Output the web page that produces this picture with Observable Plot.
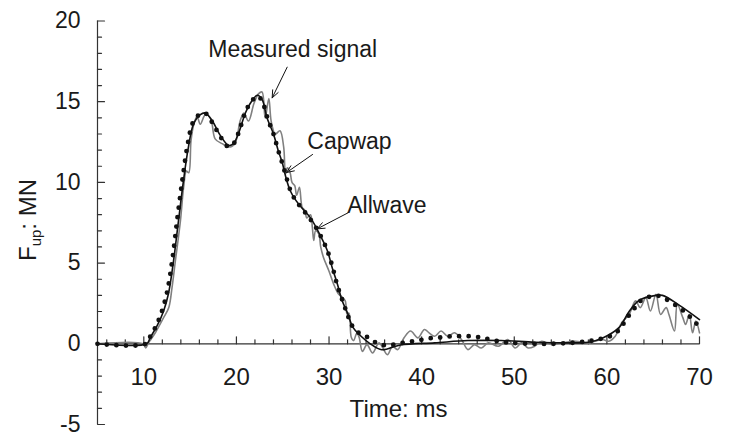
<!DOCTYPE html>
<html><head><meta charset="utf-8">
<script src="https://cdn.jsdelivr.net/npm/d3@7"></script>
<script src="https://cdn.jsdelivr.net/npm/@observablehq/plot@0.6"></script>
<style>html,body{margin:0;padding:0;background:#fff} svg{display:block}</style>
</head><body><div id="chart"></div>
<script>
// Time (ms), F_up (MN)
const measured = [[5,0],[9.9,0],[10.2,-0.25],[10.5,0.05],[10.8,0.3],[11.26,0.7],[12.15,1.63],[12.7,2.25],[13.05,3.5],[13.4,5.1],[13.95,7.6],[14.3,9.7],[14.6,10.7],[14.85,10.6],[15.1,12.6],[15.4,13.6],[15.75,14.1],[16.1,13.6],[16.65,14.2],[17.2,14.0],[17.7,12.7],[18.45,12.4],[19.35,12.2],[19.9,12.5],[20.4,13.8],[20.8,14.3],[21.3,13.8],[21.9,14.9],[22.4,15.5],[22.77,15.6],[23.1,14.0],[23.5,15.2],[23.75,13.8],[24.2,13.0],[24.7,13.2],[25.1,12.2],[25.3,10.5],[25.5,10.9],[25.8,10.6],[26.0,10.0],[26.3,9.8],[26.5,9.2],[26.8,9.7],[27.1,8.45],[27.4,8.25],[27.6,7.8],[28.0,8.0],[28.2,7.2],[28.35,6.4],[28.55,7.0],[28.9,6.8],[29.1,6.0],[29.4,5.35],[30.0,4.5],[30.5,3.7],[31.0,3.1],[31.4,2.9],[31.75,2.66],[31.95,1.84],[32.15,1.9],[32.4,0.4],[32.65,0.2],[33.0,0.65],[33.25,0.4],[33.6,-0.47],[34.1,-0.05],[34.7,-0.57],[35.4,0.06],[36.3,-0.67],[36.85,-0.15],[37.4,-0.36],[38.1,0.37],[38.8,0.79],[39.6,0.37],[40.3,0.89],[40.8,0.68],[41.4,0.47],[42.1,0.79],[42.8,0.47],[43.55,0.68],[44.3,0.27],[45.0,-0.36],[45.7,-0.05],[46.45,-0.26],[47.2,0.06],[48.3,-0.15],[49.3,0.27],[50.1,-0.26],[50.8,0.06],[51.5,-0.26],[52.2,-0.15],[52.96,0.16],[54.05,-0.05],[55.1,0.06],[56.6,0.16],[58.0,0.06],[59.5,0.27],[60.2,0.16],[60.9,0.47],[61.6,1.3],[62.4,1.82],[63.1,2.66],[63.6,2.24],[64.2,2.86],[64.7,2.03],[65.3,3.07],[65.8,1.82],[66.4,2.24],[66.7,1.82],[67.3,0.79],[67.6,2.45],[68.2,1.62],[68.5,1.2],[68.9,1.82],[69.25,0.68],[69.6,1.41],[70.0,0.68]];

const capwap = [[5,0],[10.3,0],[10.7,0.39],[11.44,1.12],[12.12,2.0],[12.66,3.1],[13.2,5.1],[13.74,7.6],[14.28,10.1],[14.82,12.2],[15.36,13.6],[16.1,14.2],[16.65,14.3],[17.4,13.8],[18.27,12.9],[19.13,12.3],[19.67,12.4],[20.2,13.0],[20.97,14.3],[21.5,14.9],[22.26,15.4],[22.8,15.1],[23.3,14.0],[24.0,13.0],[24.5,12.0],[24.96,11.2],[25.3,10.4],[25.8,9.5],[26.4,8.9],[27.1,8.4],[28.0,7.8],[28.8,7.0],[29.8,5.8],[30.35,4.7],[30.9,3.7],[31.4,2.7],[32.0,1.9],[32.6,1.0],[33.4,0.5],[34.45,0.0],[35.7,-0.37],[37.7,-0.07],[41.4,0.06],[45,0.2],[48.6,0.2],[52.2,0.1],[55.8,0.06],[58,0.1],[59.5,0.35],[61.3,1.0],[62.4,2.0],[63.5,2.7],[65.3,3.0],[66,3.0],[67.8,2.4],[70,1.5]];

const allwave = [[5,0],[10.2,0],[10.7,0.45],[11.4,1.2],[12.0,2.1],[12.55,3.3],[13.1,5.3],[13.65,7.9],[14.2,10.3],[14.75,12.4],[15.3,13.7],[16.0,14.2],[16.6,14.3],[17.4,13.7],[18.3,12.8],[19.15,12.2],[19.7,12.4],[20.25,13.1],[21.0,14.4],[21.6,15.0],[22.3,15.35],[22.8,15.0],[23.4,13.9],[24.0,13.0],[24.5,12.0],[25.0,11.1],[25.4,10.3],[25.9,9.4],[26.5,8.8],[27.2,8.3],[28.0,7.7],[28.8,7.0],[29.8,5.8],[30.4,4.7],[30.9,3.6],[31.5,2.6],[32.0,1.8],[32.4,1.2],[33.2,0.68],[34.3,0.37],[35.3,0],[36.3,-0.1],[37.4,0],[38.5,0.12],[39.6,0.2],[40.65,0.33],[41.7,0.37],[42.8,0.45],[43.9,0.47],[45.2,0.47],[46.3,0.4],[47.35,0.27],[48.6,0.12],[49.7,0.06],[51.9,0],[54.05,0],[56.2,0.06],[58.0,0.16],[59.5,0.33],[60.75,0.58],[61.5,1.0],[62.2,1.62],[62.9,2.14],[63.5,2.6],[64.5,2.9],[65.6,2.97],[66.7,2.66],[67.8,2.24],[68.5,1.93],[69.25,1.51],[70,1.04]];

const xMajorTicks = [10,20,30,40,50,60,70];
const xMinorTicks = [6,8,12,14,16,18,22,24,26,28,32,34,36,38,42,44,46,48,52,54,56,58,62,64,66,68];
const yMajorTicks = [-5,0,5,10,15,20];
const yMinorTicks = [-4,-3,-2,-1,1,2,3,4,6,7,8,9,11,12,13,14,16,17,18,19];
const xTitle = "Time: ms";

const annotations = [
  {label: "Measured signal", tx: 16.97, ty: 17.75, x1: 25.48, y1: 17.14, x2: 23.86, y2: 15.24},
  {label: "Capwap",          tx: 27.65, ty: 12.09, x1: 28.22, y1: 11.73, x2: 25.41, y2: 10.61},
  {label: "Allwave",         tx: 31.97, ty: 8.12,  x1: 32.1,  y1: 8.13,  x2: 28.72, y2: 7.12}
];

const tickShape = {draw(context, l) { context.moveTo(0, 0); context.lineTo(0, -l); }};
const axisColor = "#333";
const font = "'Liberation Sans', Arial, Helvetica, sans-serif";

const chart = Plot.plot({
  width: 729,
  height: 434,
  marginLeft: 97,
  marginRight: 30,
  marginTop: 20.5,
  marginBottom: 10,
  style: {fontFamily: font, fontSize: "23px", color: "#1a1a1a", background: "#fff"},
  x: {domain: [5, 70], axis: null},
  y: {domain: [-5, 20], axis: null},
  marks: [
    Plot.ruleX([5], {stroke: axisColor, strokeWidth: 1.2}),
    Plot.ruleY([0], {stroke: axisColor, strokeWidth: 1.2}),
    Plot.vector(xMinorTicks, {x: d => d, y: () => 0, length: 4, anchor: "start", shape: tickShape, stroke: axisColor, strokeWidth: 1.2}),
    Plot.vector(xMajorTicks, {x: d => d, y: () => 0, length: 7, anchor: "start", shape: tickShape, stroke: axisColor, strokeWidth: 1.2}),
    Plot.vector(yMinorTicks, {x: () => 5, y: d => d, length: 4, rotate: 90, anchor: "start", shape: tickShape, stroke: axisColor, strokeWidth: 1.2}),
    Plot.vector(yMajorTicks, {x: () => 5, y: d => d, length: 7, rotate: 90, anchor: "start", shape: tickShape, stroke: axisColor, strokeWidth: 1.2}),
    Plot.axisY(yMajorTicks, {anchor: "left", tickSize: 0, tickPadding: 17, fontSize: 23, label: null, fill: "#1a1a1a", tickFormat: d => String(d)}),
    Plot.text(xMajorTicks, {x: d => d, y: () => 0, text: d => String(d), dy: 34, fontSize: 24, fill: "#1a1a1a"}),
    Plot.text([xTitle], {frameAnchor: "bottom", lineAnchor: "bottom", dy: -8, fontSize: 24, fill: "#1a1a1a"}),
    Plot.line(measured, {x: d => d[0], y: d => d[1], stroke: "#808080", strokeWidth: 1.6, curve: "catmull-rom"}),
    Plot.line(allwave, {x: d => d[0], y: d => d[1], stroke: "#111", strokeWidth: 4.8, strokeDasharray: "0 9.5", strokeLinecap: "round", curve: "catmull-rom"}),
    Plot.line(capwap, {x: d => d[0], y: d => d[1], stroke: "#111", strokeWidth: 1.6, curve: "catmull-rom"}),
    Plot.arrow(annotations, {x1: "x1", y1: "y1", x2: "x2", y2: "y2", stroke: "#111", strokeWidth: 1, headLength: 12, headAngle: 45}),
    Plot.text(annotations, {x: "tx", y: "ty", text: "label", textAnchor: "start", lineAnchor: "bottom", fontSize: 23, fill: "#1a1a1a"})
  ]
});

// Y-axis title with subscript
const svg = d3.select(chart);
const t = svg.append("text")
  .attr("transform", "translate(36,220) rotate(-90)")
  .attr("text-anchor", "middle")
  .attr("font-family", font)
  .attr("font-size", 24)
  .attr("fill", "#1a1a1a");
t.append("tspan").text("F");
t.append("tspan").attr("font-size", 15).attr("dy", 5).text("up");
t.append("tspan").attr("dy", -5).text(": MN");

document.getElementById("chart").appendChild(chart);
</script>
</body></html>
